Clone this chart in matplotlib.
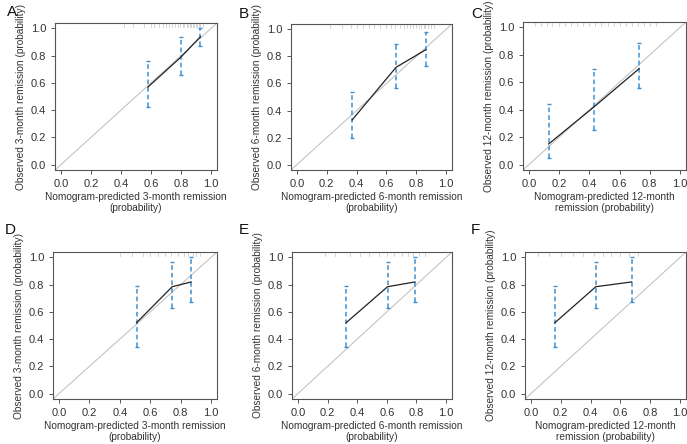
import matplotlib
matplotlib.use("Agg")
import matplotlib.pyplot as plt

plt.rcParams['font.family'] = ['Liberation Sans', 'DejaVu Sans']

W, H = 687, 444

labels = ['A', 'B', 'C', 'D', 'E', 'F']
months = ['3', '6', '12', '3', '6', '12']

# predicted (x), observed (y), and error bar bounds per panel
pred = [
    [0.58, 0.80, 0.93],
    [0.37, 0.665, 0.865],
    [0.13, 0.43, 0.73],
    [0.51, 0.745, 0.87],
    [0.325, 0.605, 0.79],
    [0.16, 0.435, 0.675],
]
obs = [
    [0.57, 0.79, 0.94],
    [0.33, 0.72, 0.85],
    [0.15, 0.42, 0.70],
    [0.52, 0.785, 0.82],
    [0.52, 0.785, 0.82],
    [0.52, 0.785, 0.82],
]
lower = [
    [0.42, 0.66, 0.87],
    [0.20, 0.57, 0.73],
    [0.05, 0.25, 0.56],
    [0.34, 0.63, 0.67],
    [0.34, 0.63, 0.67],
    [0.34, 0.63, 0.67],
]
upper = [
    [0.76, 0.94, 1.00],
    [0.54, 0.89, 0.98],
    [0.44, 0.70, 0.89],
    [0.79, 0.97, 1.00],
    [0.79, 0.97, 1.00],
    [0.79, 0.97, 1.00],
]
# rug of individual predictions along the top
rug = [
    [0.42, 0.48, 0.55, 0.60, 0.62, 0.65, 0.68, 0.70, 0.72, 0.74, 0.76, 0.78, 0.79,
     0.81, 0.82, 0.84, 0.85, 0.86, 0.87, 0.88, 0.89, 0.90, 0.91, 0.92, 0.93, 0.95],
    [0.22, 0.30, 0.36, 0.40, 0.44, 0.48, 0.52, 0.56, 0.60, 0.63, 0.66, 0.69, 0.72,
     0.74, 0.76, 0.78, 0.80, 0.82, 0.83, 0.85, 0.86, 0.88, 0.90, 0.92],
    [0.04, 0.08, 0.12, 0.15, 0.20, 0.24, 0.28, 0.32, 0.36, 0.40, 0.44, 0.48, 0.52,
     0.56, 0.60, 0.64, 0.68, 0.72, 0.76, 0.80, 0.84],
    [0.40, 0.48, 0.55, 0.60, 0.65, 0.70, 0.74, 0.78, 0.82, 0.85, 0.88, 0.90, 0.93],
    [0.18, 0.25, 0.35, 0.42, 0.48, 0.55, 0.60, 0.65, 0.70, 0.74, 0.78, 0.82, 0.86],
    [0.05, 0.12, 0.20, 0.28, 0.35, 0.42, 0.48, 0.54, 0.60, 0.66, 0.72],
]

# axes boxes in pixels: left, right, top, bottom
boxes = [
    (55, 217, 23, 170),
    (291, 452, 24, 170),
    (523, 686, 22, 170),
    (53, 217, 252, 399),
    (292, 452, 252, 399),
    (525, 686, 252, 399),
]
letter_pos = [(7, 12), (239, 14), (471, 14), (5, 230), (239, 230), (471, 230)]

fig = plt.figure(figsize=(W / 100, H / 100), dpi=100)
blue = '#3d8fd1'
axc = '#555555'

for i in range(6):
    l, r, t, b = boxes[i]
    ax = fig.add_axes([l / W, 1 - b / H, (r - l) / W, (b - t) / H])
    ax.set_xlim(-0.04, 1.04)
    ax.set_ylim(-0.04, 1.04)
    ax.plot([-0.04, 1.04], [-0.04, 1.04], color='#c4c4c4', lw=0.8, zorder=1)
    for xr in rug[i]:
        ax.plot([xr, xr], [1.01, 1.035], color='#cfcfcf', lw=0.6, zorder=1)
    ax.errorbar(pred[i], obs[i],
                yerr=[[o - lo for o, lo in zip(obs[i], lower[i])],
                      [u - o for o, u in zip(obs[i], upper[i])]],
                fmt='none', ecolor=blue, elinewidth=1.1, capsize=1.6,
                capthick=1.0, zorder=2)
    eb = ax.containers[-1]
    for lc in eb.lines[2]:
        lc.set_linestyle((0, (3, 2)))
    ax.plot(pred[i], obs[i], color='#222222', lw=0.9, zorder=3)

    ticks = [0.0, 0.2, 0.4, 0.6, 0.8, 1.0]
    ax.set_xticks(ticks)
    ax.set_yticks(ticks)
    ax.set_xticklabels(['%.1f' % v for v in ticks])
    ax.set_yticklabels(['%.1f' % v for v in ticks])
    ax.tick_params(colors=axc, labelcolor='#333333', labelsize=8, length=3, width=0.7)
    for s in ax.spines.values():
        s.set_color(axc)
        s.set_linewidth(0.8)

    m = months[i]
    if m == '12':
        xl = 'Nomogram-predicted 12-month\nremission (probability)'
    else:
        xl = 'Nomogram-predicted %s-month remission\n(probability)' % m
    ax.set_xlabel(xl, fontsize=7.3, color='#333333', labelpad=2, linespacing=1.15)
    ax.set_ylabel('Observed %s-month remission (probability)' % m,
                  fontsize=7.3, color='#333333', labelpad=3)

    lx, ly = letter_pos[i]
    fig.text(lx / W, 1 - ly / H, labels[i], fontsize=11, va='center', ha='left',
             color='#111111')

fig.savefig('out.png', dpi=100)
